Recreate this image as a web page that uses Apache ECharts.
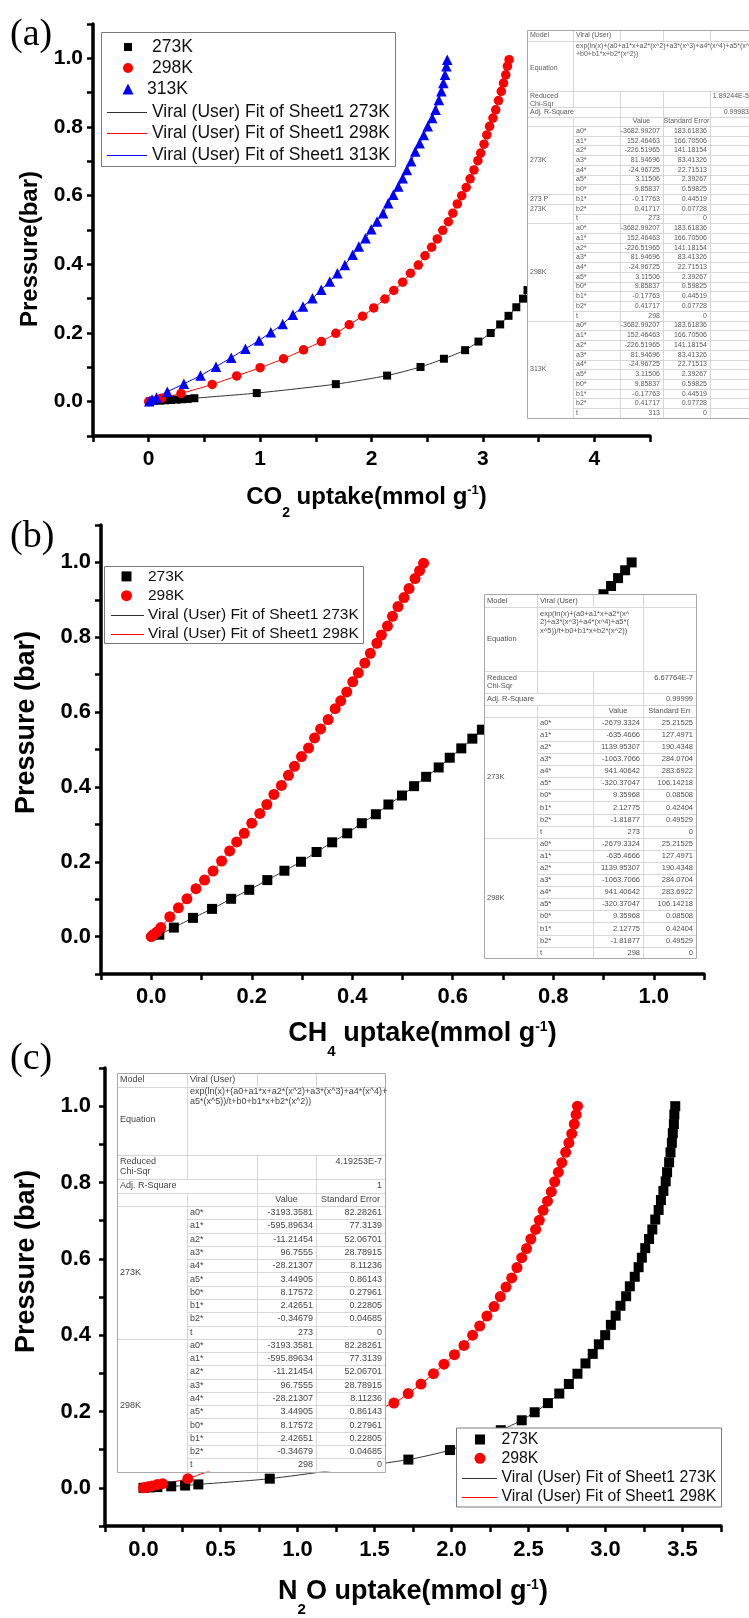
<!DOCTYPE html>
<html><head><meta charset="utf-8">
<script src="https://cdn.jsdelivr.net/npm/echarts@6/dist/echarts.min.js"></script>
<style>html,body{margin:0;padding:0;background:#fff}#c{width:749px;height:1618px}</style>
</head><body><div id="c"></div>
<script>
// ================= DATA =================
// Panel (a) CO2 isotherms [uptake mmol/g, pressure bar]
const co2_273K = [[0.01,0.001],[0.05,0.002],[0.1,0.003],[0.15,0.004],[0.2,0.005],[0.25,0.006],[0.3,0.007],[0.35,0.008],[0.41,0.01],[0.97,0.025],[1.68,0.051],[2.14,0.076],[2.44,0.101],[2.65,0.125],[2.84,0.15],[2.96,0.175],[3.07,0.2],[3.155,0.225],[3.23,0.25],[3.3,0.275],[3.36,0.3],[3.4,0.325]];
const co2_298K = [[0,0],[0.03,0.003],[0.115,0.01],[0.29,0.024],[0.57,0.05],[0.79,0.075],[1.0,0.099],[1.21,0.125],[1.39,0.151],[1.55,0.175],[1.68,0.199],[1.8,0.224],[1.92,0.249],[2.02,0.273],[2.12,0.299],[2.2,0.324],[2.28,0.348],[2.35,0.374],[2.42,0.398],[2.48,0.425],[2.54,0.45],[2.59,0.474],[2.64,0.499],[2.69,0.524],[2.73,0.549],[2.77,0.576],[2.81,0.6],[2.85,0.624],[2.885,0.649],[2.92,0.675],[2.955,0.702],[2.98,0.724],[3.01,0.75],[3.035,0.777],[3.06,0.802],[3.09,0.826],[3.115,0.85],[3.14,0.877],[3.165,0.904],[3.185,0.928],[3.205,0.952],[3.22,0.977],[3.235,0.996]];
const co2_313K = [[0.005,0.001],[0.03,0.006],[0.07,0.012],[0.167,0.029],[0.316,0.052],[0.465,0.076],[0.604,0.102],[0.741,0.128],[0.868,0.154],[0.99,0.178],[1.096,0.202],[1.203,0.226],[1.294,0.253],[1.385,0.277],[1.47,0.301],[1.549,0.326],[1.625,0.35],[1.694,0.374],[1.761,0.398],[1.831,0.428],[1.886,0.452],[1.946,0.476],[1.998,0.502],[2.05,0.525],[2.104,0.549],[2.15,0.578],[2.196,0.603],[2.241,0.627],[2.28,0.651],[2.317,0.675],[2.356,0.7],[2.393,0.729],[2.432,0.753],[2.469,0.777],[2.505,0.802],[2.545,0.826],[2.575,0.85],[2.605,0.879],[2.627,0.904],[2.645,0.928],[2.66,0.952],[2.672,0.977],[2.68,0.996]];
// Panel (b) CH4
const ch4_273K = [[0.016,0.005],[0.045,0.024],[0.083,0.05],[0.121,0.074],[0.159,0.101],[0.195,0.125],[0.231,0.151],[0.265,0.176],[0.298,0.2],[0.329,0.226],[0.36,0.252],[0.39,0.276],[0.419,0.303],[0.447,0.327],[0.472,0.353],[0.499,0.377],[0.523,0.402],[0.547,0.427],[0.572,0.452],[0.594,0.478],[0.617,0.503],[0.639,0.529],[0.658,0.553],[0.9,0.915],[0.915,0.937],[0.929,0.958],[0.943,0.979],[0.956,1.0]];
const ch4_298K = [[0,0],[0.004,0.005],[0.011,0.012],[0.019,0.024],[0.037,0.053],[0.054,0.077],[0.071,0.101],[0.089,0.128],[0.106,0.151],[0.123,0.175],[0.14,0.202],[0.156,0.229],[0.17,0.253],[0.185,0.276],[0.2,0.303],[0.216,0.329],[0.23,0.353],[0.244,0.38],[0.259,0.404],[0.273,0.431],[0.285,0.455],[0.299,0.481],[0.313,0.504],[0.325,0.531],[0.337,0.555],[0.352,0.58],[0.366,0.609],[0.377,0.63],[0.389,0.654],[0.401,0.681],[0.412,0.705],[0.425,0.731],[0.436,0.757],[0.449,0.784],[0.458,0.806],[0.47,0.83],[0.48,0.856],[0.491,0.882],[0.503,0.906],[0.513,0.93],[0.525,0.957],[0.534,0.978],[0.542,0.998]];
// Panel (c) N2O
const n2o_273K = [[0,0],[0.04,0.001],[0.09,0.002],[0.18,0.004],[0.27,0.006],[0.356,0.009],[0.82,0.024],[1.72,0.074],[1.99,0.099],[2.32,0.151],[2.456,0.177],[2.54,0.198],[2.626,0.222],[2.7,0.247],[2.762,0.272],[2.818,0.299],[2.87,0.326],[2.917,0.351],[2.957,0.376],[2.998,0.4],[3.035,0.427],[3.066,0.451],[3.097,0.477],[3.134,0.502],[3.158,0.528],[3.19,0.553],[3.215,0.578],[3.236,0.603],[3.258,0.628],[3.283,0.652],[3.304,0.677],[3.323,0.703],[3.345,0.728],[3.36,0.754],[3.376,0.778],[3.391,0.803],[3.4,0.827],[3.413,0.853],[3.422,0.879],[3.431,0.904],[3.437,0.929],[3.444,0.953],[3.447,0.978],[3.453,1.0]];
const n2o_298K = [[0,0],[0.015,0.001],[0.03,0.003],[0.055,0.005],[0.09,0.009],[0.124,0.011],[0.288,0.024],[1.626,0.222],[1.719,0.247],[1.802,0.272],[1.883,0.299],[1.951,0.324],[2.019,0.349],[2.081,0.373],[2.137,0.4],[2.183,0.424],[2.23,0.45],[2.276,0.475],[2.317,0.501],[2.354,0.526],[2.391,0.55],[2.425,0.577],[2.456,0.603],[2.487,0.627],[2.515,0.652],[2.546,0.677],[2.57,0.701],[2.595,0.727],[2.623,0.751],[2.648,0.776],[2.67,0.802],[2.694,0.827],[2.716,0.852],[2.741,0.879],[2.762,0.904],[2.781,0.928],[2.797,0.953],[2.809,0.978],[2.818,1.0]];

// Fit-result tables
const fitParamNames = ['a0*','a1*','a2*','a3*','a4*','a5*','b0*','b1*','b2*','t'];
const co2FitValues = ['-3682.99207','152.46463','-226.51965','81.94696','-24.96725','3.11506','9.85837','-0.17763','0.41717'];
const co2FitErrors = ['183.61836','166.70506','141.18154','83.41326','22.71513','2.39267','0.59825','0.44519','0.07728','0'];
const ch4FitValues = ['-2679.3324','-635.4666','1139.95307','-1063.7066','941.40642','-320.37047','9.35968','2.12775','-1.81877'];
const ch4FitErrors = ['25.21525','127.4971','190.4348','284.0704','283.6922','106.14218','0.08508','0.42404','0.49529','0'];
const n2oFitValues = ['-3193.3581','-595.89634','-11.21454','96.7555','-28.21307','3.44905','8.17572','2.42651','-0.34679'];
const n2oFitErrors = ['82.28261','77.3139','52.06701','28.78915','8.11236','0.86143','0.27961','0.22805','0.04685','0'];

// ================= HELPERS =================
const SANS = 'Liberation Sans, Arial, sans-serif';
const SERIF = 'Liberation Serif, Times New Roman, serif';
const els = [];

function buildTable(T) {
  const c = T.cols, ys = T.ys, n = c.length - 1;
  let nRows = 0; T.groups.forEach(g => nRows += 10);
  const X0 = c[0], XN = c[n], bottom = ys[5] + nRows * T.rowH;
  const R = v => Math.round(v) + 0.5;
  els.push({type:'rect', z:100, silent:true, shape:{x:X0, y:ys[0], width:XN-X0, height:bottom-ys[0]}, style:{fill:'#fff'}});
  const L = (x1,y1,x2,y2) => els.push({type:'line', z:101, silent:true, shape:{x1,y1,x2,y2}, style:{stroke:'#d6d6d6', lineWidth:1}});
  for (let k = 1; k <= 5; k++) L(X0, R(ys[k]), XN, R(ys[k]));
  const bounds = new Set(); T.labels.forEach(l => { bounds.add(l.r0); bounds.add(l.r1); });
  for (let r = 1; r < nRows; r++) { const y = R(ys[5] + r * T.rowH); L(bounds.has(r) ? X0 : c[1], y, XN, y); }
  L(R(c[1]), ys[0], R(c[1]), ys[3]); L(R(c[1]), ys[4], R(c[1]), bottom);
  for (let k = 2; k < n; k++) {
    L(R(c[k]), ys[0], R(c[k]), ys[1]);
    if (T.eqDiv.indexOf(k) >= 0) L(R(c[k]), ys[1], R(c[k]), ys[2]);
    L(R(c[k]), ys[2], R(c[k]), bottom);
  }
  els.push({type:'rect', z:102, silent:true, shape:{x:R(X0), y:R(ys[0]), width:Math.round(XN-X0), height:Math.round(bottom-ys[0])}, style:{fill:'none', stroke:'#a8a8a8', lineWidth:1}});
  const Tx = (x,y,text,align,va) => els.push({type:'text', z:103, silent:true, x, y, style:{text, fill:T.color, fontSize:T.fs, fontFamily:SANS, align:align||'left', verticalAlign:va||'middle'}});
  Tx(X0+3, (ys[0]+ys[1])/2, 'Model'); Tx(c[1]+3, (ys[0]+ys[1])/2, 'Viral (User)');
  T.eq.forEach((s,i) => Tx(c[1]+3, ys[1]+T.eqPad+i*T.lh, s, 'left', 'top'));
  Tx(X0+3, T.eqLabelY, 'Equation');
  Tx(X0+3, ys[2]+T.chiPad, 'Reduced', 'left', 'top');
  Tx(X0+3, ys[2]+T.chiPad+T.lh, 'Chi-Sqr', 'left', 'top');
  Tx(XN-3, ys[2]+T.chiPad, T.chi, 'right', 'top');
  Tx(X0+3, (ys[3]+ys[4])/2, 'Adj. R-Square'); Tx(XN-3, (ys[3]+ys[4])/2, T.r2, 'right');
  Tx((c[2]+c[3])/2, (ys[4]+ys[5])/2, 'Value', 'center');
  Tx((c[3]+c[4])/2, (ys[4]+ys[5])/2, T.errHead, 'center');
  T.groups.forEach((g, gi) => {
    for (let i = 0; i < 10; i++) {
      const y = ys[5] + (gi*10 + i + 0.5) * T.rowH;
      Tx(c[1]+3, y, fitParamNames[i]);
      Tx(c[3]-3, y, i < 9 ? T.values[i] : g, 'right');
      Tx(c[4]-3, y, T.errors[i], 'right');
    }
  });
  T.labels.forEach(l => Tx(X0+3, l.y != null ? l.y : ys[5] + (l.r0+l.r1)/2*T.rowH, l.text));
}

function buildLegend(G) {
  els.push({type:'rect', z:100, silent:true, shape:{x:G.x+0.5, y:G.y+0.5, width:G.w, height:G.h}, style:{fill:'#fff', stroke:'#7a7a7a', lineWidth:1}});
  G.items.forEach(it => {
    const s = it.s, sx = G.sx, y = it.y;
    if (it.kind === 'rect') els.push({type:'rect', z:101, silent:true, shape:{x:sx-s/2, y:y-s/2, width:s, height:s}, style:{fill:it.color}});
    else if (it.kind === 'circle') els.push({type:'circle', z:101, silent:true, shape:{cx:sx, cy:y, r:s/2}, style:{fill:it.color}});
    else if (it.kind === 'triangle') els.push({type:'polygon', z:101, silent:true, shape:{points:[[sx,y-s/2],[sx+s/2,y+s/2],[sx-s/2,y+s/2]]}, style:{fill:it.color}});
    else els.push({type:'line', z:101, silent:true, shape:{x1:G.l1, y1:Math.round(y)+0.5, x2:G.l2, y2:Math.round(y)+0.5}, style:{stroke:it.color, lineWidth:1}});
    els.push({type:'text', z:101, silent:true, x:(it.tx || G.tx), y:y, style:{text:it.text, fill:'#111', fontSize:G.fs, fontFamily:SANS, align:'left', verticalAlign:'middle'}});
  });
}

// Tables
buildTable({cols:[527,573,620,663,710,752], ys:[30,40.7,90.7,107.3,116.7,126], rowH:9.73, fs:7, lh:8, color:'#5a5a5a',
  eq:['exp(ln(x)+(a0+a1*x+a2*(x^2)+a3*(x^3)+a4*(x^4)+a5*(x^5))/t','+b0+b1*x+b2*(x^2))'], eqPad:1.5, eqDiv:[], eqLabelY:68, chiPad:2,
  chi:'1.89244E-5', r2:'0.99983', errHead:'Standard Error', values:co2FitValues, errors:co2FitErrors, groups:['273','298','313'],
  labels:[{r0:0,r1:7,text:'273K'},{r0:7,r1:8,text:'273 P'},{r0:8,r1:10,text:'273K',y:126+8.5*9.73},{r0:10,r1:20,text:'298K'},{r0:20,r1:30,text:'313K'}]});
buildTable({cols:[484,537,593,643,696], ys:[594.3,606.7,671,693.3,705,716.7], rowH:12.1, fs:7.5, lh:8.5, color:'#505050',
  eq:['exp(ln(x)+(a0+a1*x+a2*(x^','2)+a3*(x^3)+a4*(x^4)+a5*(','x^5))/t+b0+b1*x+b2*(x^2))'], eqPad:3, eqDiv:[3], eqLabelY:639.3, chiPad:2.5,
  chi:'6.67764E-7', r2:'0.99999', errHead:'Standard Err', values:ch4FitValues, errors:ch4FitErrors, groups:['273','298'],
  labels:[{r0:0,r1:10,text:'273K'},{r0:10,r1:20,text:'298K'}]});
buildTable({cols:[117,187,257,316,385], ys:[1072.7,1086.7,1155,1179.3,1192.7,1206], rowH:13.28, fs:9, lh:10, color:'#454545',
  eq:['exp(ln(x)+(a0+a1*x+a2*(x^2)+a3*(x^3)+a4*(x^4)+','a5*(x^5))/t+b0+b1*x+b2*(x^2))'], eqPad:0.5, eqDiv:[], eqLabelY:1120, chiPad:2,
  chi:'4.19253E-7', r2:'1', errHead:'Standard Error', values:n2oFitValues, errors:n2oFitErrors, groups:['273','298'],
  labels:[{r0:0,r1:10,text:'273K'},{r0:10,r1:20,text:'298K'}]});

// Legends
buildLegend({x:101, y:32, w:294, h:134, sx:128, tx:152, l1:107, l2:147, fs:17.5, items:[
  {kind:'rect', s:8, color:'#000', y:47, text:'273K'},
  {kind:'circle', s:10, color:'#f00', y:68, text:'298K'},
  {kind:'triangle', s:11, color:'#00f', y:89, text:'313K', tx:147},
  {kind:'line', color:'#333', y:112, text:'Viral (User) Fit of Sheet1 273K'},
  {kind:'line', color:'#f00', y:133, text:'Viral (User) Fit of Sheet1 298K'},
  {kind:'line', color:'#00f', y:155, text:'Viral (User) Fit of Sheet1 313K'}]});
buildLegend({x:104, y:566, w:259, h:77, sx:126.5, tx:148, l1:111, l2:144, fs:15.5, items:[
  {kind:'rect', s:10, color:'#000', y:576.4, text:'273K'},
  {kind:'circle', s:11, color:'#f00', y:595.7, text:'298K'},
  {kind:'line', color:'#333', y:614.6, text:'Viral (User) Fit of Sheet1 273K'},
  {kind:'line', color:'#f00', y:633.5, text:'Viral (User) Fit of Sheet1 298K'}]});
buildLegend({x:456, y:1427.5, w:265, h:79, sx:480, tx:501.5, l1:462, l2:497, fs:15.8, items:[
  {kind:'rect', s:10, color:'#000', y:1439.5, text:'273K'},
  {kind:'circle', s:11, color:'#f00', y:1458.3, text:'298K'},
  {kind:'line', color:'#333', y:1477.9, text:'Viral (User) Fit of Sheet1 273K'},
  {kind:'line', color:'#f00', y:1496.7, text:'Viral (User) Fit of Sheet1 298K'}]});

// Panel letters
[['(a)',35],['(b)',537],['(c)',1059]].forEach(p => els.push({type:'text', z:105, silent:true, x:10, y:p[1], style:{text:p[0], fill:'#000', fontSize:38, fontFamily:SERIF, align:'left', verticalAlign:'middle'}}));

// ================= AXES =================
const evenTenth = v => (Math.abs(Math.round(v*10)) % 2 === 0) ? (Math.round(v*10)/10).toFixed(1) : '';
function axisBase(fs) {
  return {
    type:'value',
    axisLine:{show:true, onZero:false, lineStyle:{color:'#000', width:3.5}},
    axisTick:{show:true, inside:false, length:6, lineStyle:{color:'#000', width:2.5}},
    splitLine:{show:false},
    axisLabel:{color:'#000', fontWeight:'bold', fontFamily:SANS, fontSize:fs}
  };
}
function xTitle(chem, sub, fs, sfs, lh, supPad, pad) {
  return {
    name:'{m|' + chem + '}{s|' + sub + '}{m|' + ' uptake(mmol g}{p|-1}{m|)}',
    nameLocation:'middle',
    nameTextStyle:{padding:pad, rich:{
      m:{fontSize:fs, fontWeight:'bold', fontFamily:SANS, color:'#000', lineHeight:lh},
      s:{fontSize:sfs, fontWeight:'bold', fontFamily:SANS, color:'#000', lineHeight:sfs, verticalAlign:'bottom'},
      p:{fontSize:sfs-1, fontWeight:'bold', fontFamily:SANS, color:'#000', lineHeight:sfs-1, verticalAlign:'top', padding:[supPad,0,0,0]}
    }}
  };
}
function yTitle(text, fs, gap, pad) {
  return {name:text, nameLocation:'middle', nameGap:gap, nameTextStyle:{fontSize:fs, fontWeight:'bold', fontFamily:SANS, color:'#000', padding:pad}};
}
function yAxisFor(gi, fs, margin, title) {
  const a = Object.assign(axisBase(fs), {gridIndex:gi, min:-0.1, max:1.1, interval:0.1}, title);
  a.axisLabel = Object.assign(a.axisLabel, {margin, formatter:evenTenth});
  return a;
}

const xA = Object.assign(axisBase(21), {gridIndex:0, min:-0.5, max:4.5, interval:0.5, nameGap:38}, xTitle('CO','2',24,14,46,10,[0,10,0,0]));
xA.axisLabel = Object.assign(xA.axisLabel, {margin:13, formatter: v => Math.abs(v - Math.round(v)) < 1e-6 ? String(Math.round(v)) : ''});
const xB = Object.assign(axisBase(22), {gridIndex:1, min:-0.1, max:1.1, interval:0.1, nameGap:35}, xTitle('CH','4',27,15,50,11,[0,0,0,40]));
xB.axisLabel = Object.assign(xB.axisLabel, {margin:12, formatter:evenTenth});
const xC = Object.assign(axisBase(22), {gridIndex:2, min:-0.25, max:3.75, interval:0.25, nameGap:41}, xTitle('N','2',27,15,50,11,[0,0,0,0]));
xC.axisLabel = Object.assign(xC.axisLabel, {margin:13, formatter: v => (Math.abs(Math.round(v*4)) % 2 === 0) ? (Math.round(v*2)/2).toFixed(1) : ''});
// N2O: the "O" follows the subscript
xC.name = '{m|N}{s|2}{m|O uptake(mmol g}{p|-1}{m|)}';

const yA = yAxisFor(0, 21, 10, yTitle('Pressure(bar)', 24, 51, [0,38,0,0]));
const yB = yAxisFor(1, 22, 10, yTitle('Pressure (bar)', 27, 61, [0,0,0,54]));
const yC = yAxisFor(2, 22, 14, yTitle('Pressure (bar)', 27, 65, [0,0,0,71]));

// ================= SERIES =================
function fit(name, data, color, gi) {
  return {type:'line', name, data, xAxisIndex:gi, yAxisIndex:gi, showSymbol:false, symbol:'none', smooth:0.2, z:2,
    lineStyle:{color, width:1}, itemStyle:{color}, silent:true};
}
function pts(name, data, color, symbol, size, gi) {
  return {type:'scatter', name, data, xAxisIndex:gi, yAxisIndex:gi, symbol, symbolSize:size, z:3,
    itemStyle:{color, opacity:1}, silent:true};
}
const series = [
  fit('Viral (User) Fit of Sheet1 273K', co2_273K, '#333', 0),
  fit('Viral (User) Fit of Sheet1 298K', co2_298K, '#f00', 0),
  fit('Viral (User) Fit of Sheet1 313K', co2_313K, '#00f', 0),
  pts('273K', co2_273K, '#000', 'rect', 8, 0),
  pts('298K', co2_298K, '#f00', 'circle', 9.5, 0),
  pts('313K', co2_313K, '#00f', 'triangle', 10.5, 0),
  fit('Viral (User) Fit of Sheet1 273K', ch4_273K, '#333', 1),
  fit('Viral (User) Fit of Sheet1 298K', ch4_298K, '#f00', 1),
  pts('273K', ch4_273K, '#000', 'rect', 10, 1),
  pts('298K', ch4_298K, '#f00', 'circle', 11, 1),
  fit('Viral (User) Fit of Sheet1 273K', n2o_273K, '#333', 2),
  fit('Viral (User) Fit of Sheet1 298K', n2o_298K, '#f00', 2),
  pts('273K', n2o_273K, '#000', 'rect', 10, 2),
  pts('298K', n2o_298K, '#f00', 'circle', 11, 2)
];

const chart = echarts.init(document.getElementById('c'), null, {renderer:'canvas', width:749, height:1618});
chart.setOption({
  animation:false,
  backgroundColor:'#fff',
  grid:[
    {left:93, top:24, width:557, height:412},
    {left:101, top:525, width:603, height:449},
    {left:105, top:1068, width:616, height:460}
  ],
  xAxis:[xA, xB, xC],
  yAxis:[yA, yB, yC],
  series,
  graphic:{elements:els}
});
</script></body></html>
